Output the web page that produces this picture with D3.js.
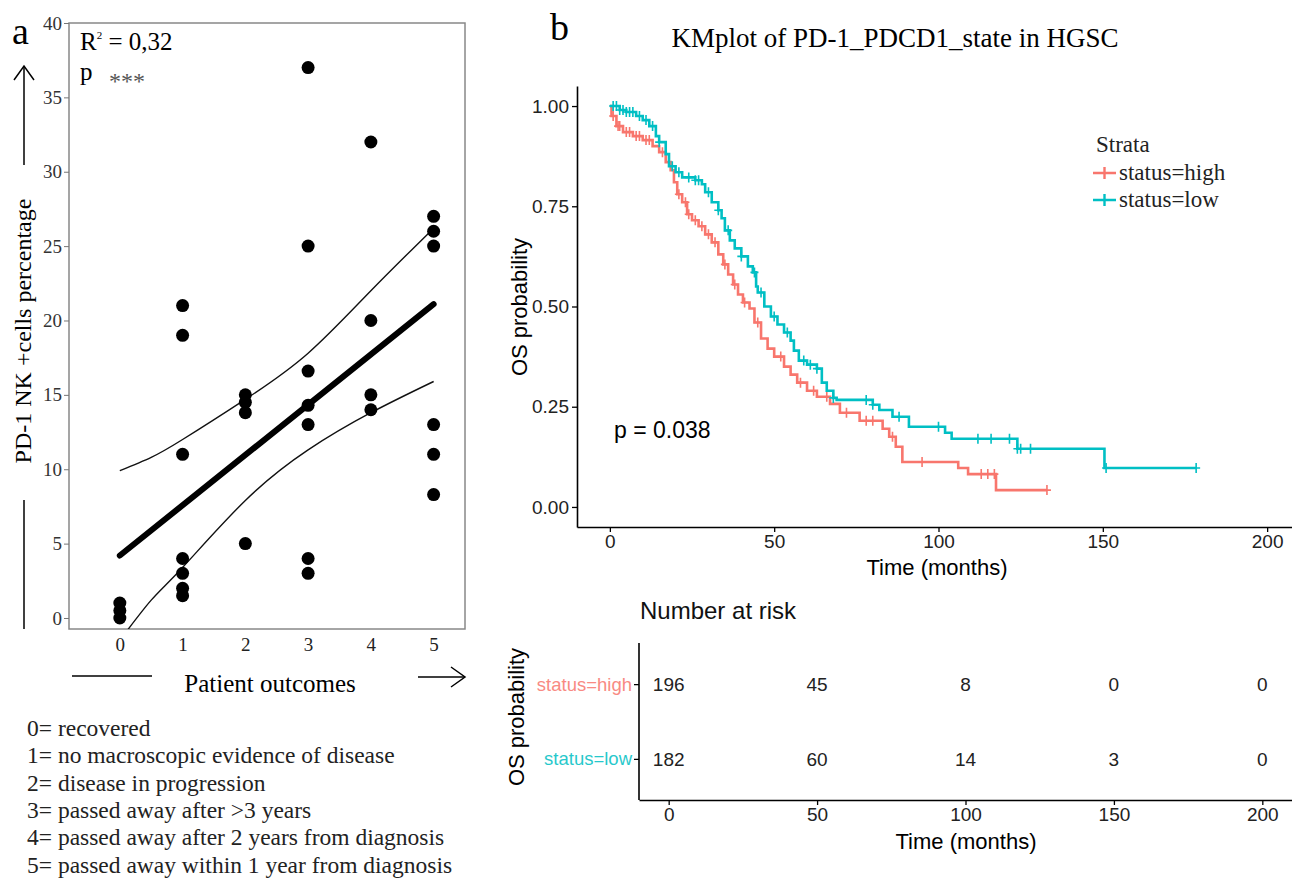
<!DOCTYPE html>
<html lang="en">
<head>
    <meta charset="UTF-8">
    <title>PD-1 NK cells / KM plot</title>
    <script src="https://cdn.jsdelivr.net/npm/d3@7"></script>
    <style>
        body { margin: 0; background: #fff; }
        svg { display: block; }
        .serif { font-family: "Liberation Serif", "Times New Roman", serif; }
        .sans { font-family: "Liberation Sans", Arial, sans-serif; }
    </style>
</head>
<body>
<script>
    /*------------------- panel a data --------------------*/
    const outcomeX = [0, 0, 0, 1, 1, 1, 1, 1, 1, 1, 2, 2, 2, 2, 3, 3, 3, 3, 3, 3, 3, 4, 4, 4, 4, 5, 5, 5, 5, 5, 5];
    const nkPct = [0, 0.5, 1, 21, 19, 11, 4, 3, 2, 1.5, 15, 14.5, 13.8, 5, 37, 25, 16.6, 14.3, 13, 4, 3, 32, 20, 15, 14, 27, 26, 25, 13, 11, 8.3];
    const fitX = [0, 5];
    const fitY = [4.2, 21.1];
    const ciX = [0, 0.5, 1, 2, 3, 4, 5];
    const ciUpper = [9.9, 10.8, 12.0, 14.7, 17.8, 22.0, 26.2];
    const ciLower = [-1.5, 1.2, 3.4, 7.9, 11.3, 13.8, 15.9];
    const outcomeTicks = [0, 1, 2, 3, 4, 5];
    const pctTicks = [0, 5, 10, 15, 20, 25, 30, 35, 40];
    const outcomeLegend = [
        "0= recovered",
        "1= no macroscopic evidence of disease",
        "2= disease in progression",
        "3= passed away after >3 years",
        "4= passed away after 2 years from diagnosis",
        "5= passed away within 1 year from diagnosis"
    ];

    /*------------------- panel b data --------------------*/
    const highTimes = [0, 0.5, 2, 4, 7, 10, 13, 15, 17, 18.5, 19.5, 20.5, 22, 23.5, 25, 27, 29, 31, 33, 34.5, 36, 37.5, 39, 40.5, 42.5, 44, 46, 48, 50, 53, 55, 57, 60, 63, 67, 70, 76, 83, 85, 87, 89, 106, 109, 117.5];
    const highSurv = [1, 0.975, 0.95, 0.935, 0.925, 0.915, 0.9, 0.885, 0.86, 0.84, 0.81, 0.78, 0.76, 0.73, 0.715, 0.7, 0.68, 0.66, 0.63, 0.605, 0.58, 0.555, 0.53, 0.51, 0.495, 0.46, 0.42, 0.395, 0.375, 0.35, 0.33, 0.31, 0.29, 0.275, 0.257, 0.235, 0.215, 0.195, 0.175, 0.15, 0.112, 0.097, 0.082, 0.042];
    const highEnd = 133;
    const highCensor = [1, 2.5, 3, 5, 6, 8, 9, 11, 12, 16, 21, 23, 24, 26, 28, 30, 32, 35, 38, 41, 45, 52, 58, 62, 66, 72, 78, 80, 86, 95, 113, 115, 117, 133];

    const lowTimes = [0, 3, 5, 8, 10, 12, 14, 15, 17, 18, 20, 22, 26, 28, 29, 31, 33, 34, 35, 36.5, 38, 40, 42, 43.5, 44.5, 45, 47, 49, 51, 53, 55, 56, 57.5, 60, 63, 64.5, 66, 68, 69, 80, 82, 86, 91, 102, 104, 124, 150.5];
    const lowSurv = [1, 0.99, 0.985, 0.975, 0.965, 0.95, 0.925, 0.91, 0.88, 0.85, 0.835, 0.822, 0.815, 0.805, 0.785, 0.76, 0.74, 0.72, 0.69, 0.665, 0.645, 0.625, 0.6, 0.585, 0.55, 0.535, 0.5, 0.475, 0.455, 0.435, 0.415, 0.39, 0.365, 0.355, 0.345, 0.31, 0.29, 0.272, 0.267, 0.255, 0.242, 0.225, 0.2, 0.185, 0.17, 0.145, 0.097];
    const lowEnd = 178.4;
    const lowCensor = [1, 2, 3, 4, 5, 6, 7, 9, 11, 13, 15, 19, 21, 24, 26, 27, 30, 33, 36, 40, 44, 46, 50, 54, 59, 61, 63, 68, 78, 80, 88, 100, 112, 116, 121.6, 124, 125, 128, 151, 178.4];

    const strata = ["status=high", "status=low"];
    const strataColors = ["#F8766D", "#00BFC4"];
    const kmTicksX = [0, 50, 100, 150, 200];
    const kmTicksY = [0, 0.25, 0.5, 0.75, 1];
    const riskHigh = [196, 45, 8, 0, 0];
    const riskLow = [182, 60, 14, 3, 0];

    const svg = d3.select("body").append("svg")
        .attr("width", 1292)
        .attr("height", 879);

    /*------------------- panel a --------------------*/
    const ax = d3.scaleLinear().domain([-0.81, 5.5]).range([69, 465]);
    const ay = d3.scaleLinear().domain([-0.74, 40]).range([629, 23]);

    svg.append("clipPath").attr("id", "clipA")
        .append("rect").attr("x", 69).attr("y", 23).attr("width", 396).attr("height", 606);

    svg.append("rect")
        .attr("x", 69).attr("y", 23).attr("width", 396).attr("height", 606)
        .attr("fill", "none").attr("stroke", "#888").attr("stroke-width", 1.5);

    const aLeft = svg.append("g")
        .attr("transform", "translate(69,0)")
        .call(d3.axisLeft(ay).tickValues(pctTicks).tickSize(5).tickPadding(2));
    aLeft.select(".domain").remove();
    aLeft.selectAll("text").attr("font-size", 19).attr("fill", "#333").style("font-family", "Liberation Serif");
    aLeft.selectAll("line").attr("stroke", "#777");

    const aBottom = svg.append("g")
        .attr("transform", "translate(0,629)")
        .call(d3.axisBottom(ax).tickValues(outcomeTicks).tickFormat(d3.format("d")).tickSize(0).tickPadding(9));
    aBottom.select(".domain").remove();
    aBottom.selectAll("text").attr("font-size", 19).attr("fill", "#222").style("font-family", "Liberation Serif");

    const gA = svg.append("g").attr("clip-path", "url(#clipA)");
    const ciLine = d3.line().x((d, i) => ax(ciX[i])).y(d => ay(d)).curve(d3.curveNatural);
    gA.append("path").attr("d", ciLine(ciUpper)).attr("fill", "none").attr("stroke", "#111").attr("stroke-width", 1.4);
    gA.append("path").attr("d", ciLine(ciLower)).attr("fill", "none").attr("stroke", "#111").attr("stroke-width", 1.4);
    gA.append("line")
        .attr("x1", ax(fitX[0])).attr("y1", ay(fitY[0]))
        .attr("x2", ax(fitX[1])).attr("y2", ay(fitY[1]))
        .attr("stroke", "#000").attr("stroke-width", 6).attr("stroke-linecap", "round");
    gA.selectAll("circle").data(nkPct).enter().append("circle")
        .attr("cx", (d, i) => ax(outcomeX[i]))
        .attr("cy", d => ay(d))
        .attr("r", 6.5)
        .attr("fill", "#000");

    svg.append("text").attr("class", "serif").attr("x", 12).attr("y", 44)
        .attr("font-size", 38).text("a");
    const r2 = svg.append("text").attr("class", "serif").attr("x", 80).attr("y", 50).attr("font-size", 25);
    r2.append("tspan").text("R");
    r2.append("tspan").attr("font-size", 11).attr("dy", -11).text("2");
    r2.append("tspan").attr("dy", 11).text(" = 0,32");
    svg.append("text").attr("class", "serif").attr("x", 80).attr("y", 80).attr("font-size", 25).text("p");
    svg.append("text").attr("class", "serif").attr("x", 109).attr("y", 89).attr("font-size", 24)
        .attr("fill", "#555").text("***");

    // y label with arrow and bar
    svg.append("text").attr("class", "serif")
        .attr("transform", "translate(31,331) rotate(-90)")
        .attr("text-anchor", "middle").attr("font-size", 24)
        .text("PD-1 NK +cells percentage");
    svg.append("line").attr("x1", 24).attr("x2", 24).attr("y1", 165).attr("y2", 66)
        .attr("stroke", "#000").attr("stroke-width", 1.5);
    svg.append("path").attr("d", "M14,80 L24,66 L34,80").attr("fill", "none")
        .attr("stroke", "#000").attr("stroke-width", 1.5);
    svg.append("line").attr("x1", 24).attr("x2", 24).attr("y1", 500).attr("y2", 629)
        .attr("stroke", "#000").attr("stroke-width", 1.5);

    // x label with bar and arrow
    svg.append("line").attr("x1", 72).attr("x2", 152).attr("y1", 676).attr("y2", 676)
        .attr("stroke", "#000").attr("stroke-width", 1.5);
    svg.append("text").attr("class", "serif").attr("x", 270).attr("y", 692)
        .attr("text-anchor", "middle").attr("font-size", 25).text("Patient outcomes");
    svg.append("line").attr("x1", 418).attr("x2", 465).attr("y1", 677).attr("y2", 677)
        .attr("stroke", "#000").attr("stroke-width", 1.5);
    svg.append("path").attr("d", "M451,667 L465,677 L451,687").attr("fill", "none")
        .attr("stroke", "#000").attr("stroke-width", 1.5);

    svg.append("g").attr("class", "serif")
        .selectAll("text").data(outcomeLegend).enter().append("text")
        .attr("x", 27)
        .attr("y", (d, i) => 736 + i * 27.3)
        .attr("font-size", 23.5)
        .attr("fill", "#222")
        .text(d => d);

    /*------------------- panel b: KM curves --------------------*/
    const kx = d3.scaleLinear().domain([-10, 210]).range([577, 1300]);
    const ky = d3.scaleLinear().domain([-0.05, 1.05]).range([527, 86]);

    svg.append("text").attr("class", "serif").attr("x", 550).attr("y", 40)
        .attr("font-size", 38).text("b");
    svg.append("text").attr("class", "serif").attr("x", 895).attr("y", 47)
        .attr("text-anchor", "middle").attr("font-size", 27).text("KMplot of PD-1_PDCD1_state in HGSC");

    const kLeft = svg.append("g").attr("transform", "translate(577,0)")
        .call(d3.axisLeft(ky).tickValues(kmTicksY).tickFormat(d3.format(".2f")).tickSize(5).tickSizeOuter(0).tickPadding(3));
    const kBottom = svg.append("g").attr("transform", "translate(0,527)")
        .call(d3.axisBottom(kx).tickValues(kmTicksX).tickSize(5).tickSizeOuter(0).tickPadding(3));
    [kLeft, kBottom].forEach(g => {
        g.select(".domain").attr("stroke-width", 1.6);
        g.selectAll("line").attr("stroke-width", 1.3);
        g.selectAll("text").attr("font-size", 19).attr("fill", "#222").style("font-family", "Liberation Sans");
    });

    svg.append("text").attr("class", "sans")
        .attr("transform", "translate(527,307) rotate(-90)")
        .attr("text-anchor", "middle").attr("font-size", 22).text("OS probability");
    svg.append("text").attr("class", "sans").attr("x", 937).attr("y", 575)
        .attr("text-anchor", "middle").attr("font-size", 22).text("Time (months)");
    svg.append("text").attr("class", "sans").attr("x", 614).attr("y", 438)
        .attr("font-size", 23).text("p = 0.038");

    function survAt(times, surv, t) {
        let s = surv[0];
        for (let i = 0; i < times.length; i++) {
            if (times[i] <= t) s = surv[i];
        }
        return s;
    }

    const stepLine = d3.line().x(d => kx(d[0])).y(d => ky(d[1])).curve(d3.curveStepAfter);
    const groups = [
        {times: highTimes, surv: highSurv, end: highEnd, censor: highCensor, color: strataColors[0]},
        {times: lowTimes, surv: lowSurv, end: lowEnd, censor: lowCensor, color: strataColors[1]}
    ];
    groups.forEach(g => {
        const pts = g.times.map((t, i) => [t, g.surv[i]]);
        pts.push([g.end, g.surv[g.surv.length - 1]]);
        svg.append("path").attr("d", stepLine(pts))
            .attr("fill", "none").attr("stroke", g.color).attr("stroke-width", 2.6);
        svg.append("g").selectAll("path").data(g.censor).enter().append("path")
            .attr("d", t => {
                const x = kx(t), y = ky(survAt(g.times, g.surv, t));
                return `M${x},${y - 5}V${y + 5}M${x - 4},${y}H${x + 4}`;
            })
            .attr("stroke", g.color).attr("stroke-width", 1.6);
    });

    // legend
    svg.append("text").attr("class", "serif").attr("x", 1096).attr("y", 152)
        .attr("font-size", 23).attr("fill", "#222").text("Strata");
    strata.forEach((s, i) => {
        const y = 173 + i * 27;
        svg.append("path").attr("d", `M1093,${y}H1116M1104.5,${y - 6}V${y + 6}`)
            .attr("stroke", strataColors[i]).attr("stroke-width", 2.4);
        svg.append("text").attr("class", "serif").attr("x", 1119).attr("y", y + 7)
            .attr("font-size", 23).attr("fill", "#222").text(s);
    });

    /*------------------- panel b: risk table --------------------*/
    const rx = d3.scaleLinear().domain([-10, 210]).range([639, 1292]);
    const ry = d3.scalePoint().domain(strata).range([643, 800]).padding(0.55);

    svg.append("text").attr("class", "sans").attr("x", 640).attr("y", 619)
        .attr("font-size", 24).attr("fill", "#111").text("Number at risk");

    const rLeft = svg.append("g").attr("transform", "translate(639,0)")
        .call(d3.axisLeft(ry).tickSize(5).tickSizeOuter(0).tickPadding(2));
    rLeft.select(".domain").attr("d", "M0,643V800");
    const rBottom = svg.append("g").attr("transform", "translate(0,800)")
        .call(d3.axisBottom(rx).tickValues(kmTicksX).tickSize(5).tickSizeOuter(0).tickPadding(3));
    [rLeft, rBottom].forEach(g => {
        g.select(".domain").attr("stroke-width", 1.6);
        g.selectAll("line").attr("stroke-width", 1.3);
        g.selectAll("text").attr("font-size", 19).attr("fill", "#222").style("font-family", "Liberation Sans");
    });
    rLeft.selectAll("text").attr("font-size", 18.5).attr("fill", (d, i) => strataColors[i]).attr("opacity", 0.85);

    [riskHigh, riskLow].forEach((row, i) => {
        svg.append("g").selectAll("text").data(row).enter().append("text")
            .attr("class", "sans")
            .attr("x", (d, j) => rx(kmTicksX[j]))
            .attr("y", ry(strata[i]) + 7)
            .attr("text-anchor", "middle")
            .attr("font-size", 19)
            .attr("fill", "#222")
            .text(d => d);
    });

    svg.append("text").attr("class", "sans")
        .attr("transform", "translate(524,717) rotate(-90)")
        .attr("text-anchor", "middle").attr("font-size", 22).text("OS probability");
    svg.append("text").attr("class", "sans").attr("x", 966).attr("y", 849)
        .attr("text-anchor", "middle").attr("font-size", 22).text("Time (months)");
</script>
</body>
</html>
